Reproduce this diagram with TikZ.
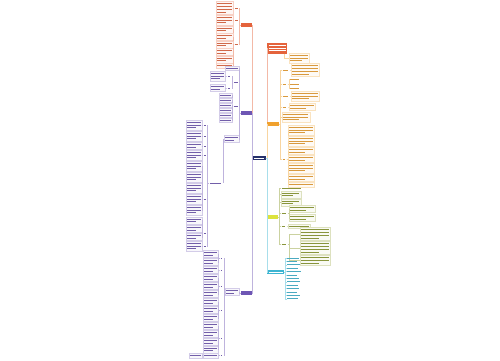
\documentclass[tikz,border=0pt]{standalone}
\usepackage{tikz}
\usetikzlibrary{calc}
\definecolor{mNavy}{HTML}{25306B}
\definecolor{mRed}{HTML}{E4633C}
\definecolor{mOrg}{HTML}{F0A12E}
\definecolor{mYel}{HTML}{DCE33C}
\definecolor{mGrn}{HTML}{8C9A2B}
\definecolor{mCyn}{HTML}{3DB5D2}
\definecolor{mPur}{HTML}{6E56B4}

% current branch colour
\newcommand{\bc}{mOrg}
% text block: [style]{name}{point}{anchor}{width}{lines}
\newcommand{\blk}[6][blk]{%
  \node[#1, anchor=#4, minimum width={#5*1pt}, minimum height={#6*2.8pt+1.6pt}] (#2) at #3 {};
  \foreach \k in {1,...,#6}{%
    \pgfmathsetmacro\ll{(#5-2.4)*(1-0.35*(\k==#6)*(#6>1))}
    \draw[txt] ($(#2.north west)+(1.2,{0.8+(\k-0.5)*2.8})$) -- ++(\ll,0);}%
}
\newcommand{\rcon}[2]{\draw[con] (#1.east) -- ++(1.2,0) |- (#2.west);}
\newcommand{\lcon}[2]{\draw[con] (#1.west) -- ++(-1.2,0) |- (#2.east);}

\begin{document}
\begin{tikzpicture}[x=1pt, y=-1pt,
    blk/.style={draw=\bc!30, fill=\bc!5, line width=0.3pt, inner sep=0pt},
    lab/.style={inner sep=0pt},
    txt/.style={draw=\bc!80!gray, line width=0.6pt},
    box/.style={inner sep=0pt, minimum height=4pt},
    con/.style={draw=\bc!45, line width=0.4pt}]
  \fill[white] (0,0) rectangle (500,360);
  \useasboundingbox (0,0) rectangle (500,360);

  % root
  \node[box, fill=mNavy, minimum width=13pt] (root) at (259,158) {};
  \draw[white, line width=0.7pt] ($(root.west)+(2,0)$) -- ($(root.east)+(-2,0)$);

  % ---------- right side ----------
  \renewcommand{\bc}{mRed}
  \node[box, fill=mRed, minimum width=20pt, minimum height=11pt, anchor=west] (rA) at (267,48) {};
  \foreach \v in {-2.7,0,2.7} \draw[white, line width=0.7pt] ($(rA.west)+(1.5,\v)$) -- ++(17,0);
  \draw[con] (root.east) -- ++(1,0) |- (rA.west);
  \renewcommand{\bc}{mOrg}
  \blk{rA1}{(289,58)}{west}{20}{3}
  \draw[con] (rA.south east) ++(-3,0) |- (rA1.west);

  \node[box, fill=mOrg, minimum width=12pt, anchor=west] (rB) at (267,124) {};
  \draw[con] (root.east) -- ++(1,0) |- (rB.west);
  \blk[lab]{b1}{(281.5,70)}{west}{8}{1}
  \blk{b11}{(291,70)}{west}{28}{4}
  \blk[lab]{b2}{(281.5,84)}{west}{6}{1}
  \foreach \y [count=\i] in {79.5,84,88.5}{\blk[lab]{b2\i}{(289,\y)}{west}{11}{1} \rcon{b2}{b2\i}}
  \blk[lab]{b3}{(281.5,96)}{west}{8}{1}
  \blk{b31}{(291,96)}{west}{28}{3}
  \blk[lab]{b4}{(281.5,107)}{west}{6}{1}
  \blk{b41}{(289,107)}{west}{26}{2}
  \blk{b5}{(281.5,117)}{west}{28}{3}
  \blk[lab]{b6}{(281.5,159)}{west}{5}{1}
  \foreach \y/\n [count=\i] in {130/3,141/3,151/2,159/2,168/3,178/2,184.5/1}{%
    \blk{b6\i}{(288,\y)}{west}{26}{\n} \rcon{b6}{b6\i}}
  \foreach \c in {b1,b2,b3,b4,b5,b6} {\rcon{rB}{\c}}
  \rcon{b1}{b11} \rcon{b3}{b31} \rcon{b4}{b41}

  \renewcommand{\bc}{mYel}
  \node[box, fill=mYel, minimum width=11pt, anchor=west] (rC) at (267,217) {};
  \draw[con] (root.east) -- ++(1,0) |- (rC.west);
  \renewcommand{\bc}{mGrn}
  \blk[lab]{c0}{(280.5,188)}{west}{22}{1}
  \blk{c1}{(280.5,194.5)}{west}{20}{2}
  \blk{c2}{(280.5,202.5)}{west}{20}{2}
  \blk[lab]{c3}{(280.5,213)}{west}{7}{1}
  \blk{c31}{(289,209)}{west}{26}{2}
  \blk{c32}{(289,218)}{west}{26}{2}
  \blk[lab]{c4}{(280.5,226)}{west}{6}{1}
  \blk{c41}{(288,226)}{west}{22}{1}
  \blk[lab]{c5}{(280.5,244)}{west}{7}{1}
  \blk{c51}{(300,234)}{west}{30}{4}
  \blk{c52}{(300,248)}{west}{30}{4}
  \blk{c53}{(300,260.5)}{west}{30}{3}
  \foreach \c in {c0,c1,c2,c3,c4,c5} {\rcon{rC}{\c}}
  \rcon{c3}{c31} \rcon{c3}{c32} \rcon{c4}{c41}
  \rcon{c5}{c51} \rcon{c5}{c52} \rcon{c5}{c53}

  \renewcommand{\bc}{mCyn}
  \node[box, fill=mCyn, minimum width=17pt, anchor=west] (rD) at (267,272) {};
  \draw[white, line width=0.6pt] ($(rD.west)+(1.5,0)$) -- ++(14,0);
  \draw[con] (root.east) -- ++(1,0) |- (rD.west);
  \foreach \w [count=\i from 0] in {14,12,15,13,16,12,14,15,13,14,12,15,13}{%
    \blk[lab]{d\i}{(286,{258+3.4*\i})}{west}{\w}{1} \rcon{rD}{d\i}}

  % ---------- left side ----------
  \renewcommand{\bc}{mRed}
  \node[box, fill=mRed, minimum width=11pt, anchor=east] (lA) at (252,25) {};
  \draw[con] (root.west) -- ++(-0.5,0) |- (lA.east);
  \blk[lab]{a1}{(239.5,8)}{east}{5}{1}
  \blk{a11}{(233,8)}{east}{17}{4}
  \blk[lab]{a2}{(239.5,20)}{east}{5}{1}
  \blk{a21}{(233,20)}{east}{17}{3}
  \blk[lab]{a3}{(239.5,44)}{east}{5}{1}
  \foreach \y/\n [count=\i] in {29.5/2,37/2,44.5/2,52/2,59.5/2,65.5/1}{%
    \blk{a3\i}{(233,\y)}{east}{17}{\n} \lcon{a3}{a3\i}}
  \foreach \c in {a1,a2,a3} {\lcon{lA}{\c}}
  \lcon{a1}{a11} \lcon{a2}{a21}

  \renewcommand{\bc}{mPur}
  \node[box, fill=mPur, minimum width=11pt, anchor=east] (lB) at (252,113) {};
  \draw[con] (root.west) -- ++(-0.5,0) |- (lB.east);
  \blk{e1}{(239.5,68)}{east}{14}{1}
  \blk[lab]{e2}{(239.5,82)}{east}{6}{1}
  \blk[lab]{e21}{(232,76)}{east}{5}{1}
  \blk{e211}{(225.5,76)}{east}{15}{3}
  \blk[lab]{e22}{(232,88)}{east}{5}{1}
  \blk{e221}{(225.5,88)}{east}{15}{2}
  \blk[lab]{e3}{(239.5,106)}{east}{6}{1}
  \foreach \y [count=\i] in {95,100,105,110,115,120}{%
    \blk{e3\i}{(232,\y)}{east}{13}{1} \lcon{e3}{e3\i}}
  \blk{e4}{(239.5,139)}{east}{15}{2}
  \foreach \c in {e1,e2,e3,e4} {\lcon{lB}{\c}}
  \lcon{e2}{e21} \lcon{e2}{e22} \lcon{e21}{e211} \lcon{e22}{e221}
  \blk[lab]{e5}{(223,183)}{east}{14}{1}
  \lcon{e4}{e5}
  \foreach \y/\n [count=\i] in {125/3,136/3,146/2,155/3,166/3,177/3,188/3,199/3,210/3,220.5/2,229/2,237/2,246/3}{%
    \blk{g\i}{(202,\y)}{east}{16}{\n}}
  \foreach \y/\l [count=\i] in {125/1,136/2,146/3,155/4,199/7,233/11,246/13}{%
    \blk[lab]{h\i}{(207.5,\y)}{east}{4}{1} \lcon{e5}{h\i}}
  \lcon{h1}{g1} \lcon{h2}{g2} \lcon{h3}{g3} \lcon{h4}{g4}
  \foreach \j in {5,...,9} {\lcon{h5}{g\j}}
  \foreach \j in {10,11,12} {\lcon{h6}{g\j}}
  \lcon{h7}{g13}

  \node[box, fill=mPur, minimum width=11pt, anchor=east] (lC) at (252,293) {};
  \draw[con] (root.west) -- ++(-0.5,0) |- (lC.east);
  \blk{f1}{(239.5,292)}{east}{14}{2}
  \lcon{lC}{f1}
  \foreach \y [count=\i] in {254,262,270,278,286,294,302,310,318,326,334,342,349.5}{%
    \blk{k\i}{(218.5,\y)}{east}{15}{2}}
  \foreach \y [count=\i] in {258,270,286,310,338}{%
    \blk[lab]{m\i}{(224,\y)}{east}{4}{1} \lcon{f1}{m\i}}
  \lcon{m1}{k1} \lcon{m1}{k2} \lcon{m2}{k3}
  \foreach \j in {4,5,6} {\lcon{m3}{k\j}}
  \foreach \j in {7,8,9} {\lcon{m4}{k\j}}
  \foreach \j in {10,...,13} {\lcon{m5}{k\j}}
  \blk[lab]{f2}{(224,355.5)}{east}{4}{1}
  \blk{f21}{(218.5,355.5)}{east}{15}{1}
  \blk{f22}{(202,355.5)}{east}{13}{1}
  \lcon{f1}{f2} \lcon{f2}{f21} \lcon{f21}{f22}
\end{tikzpicture}
\end{document}
